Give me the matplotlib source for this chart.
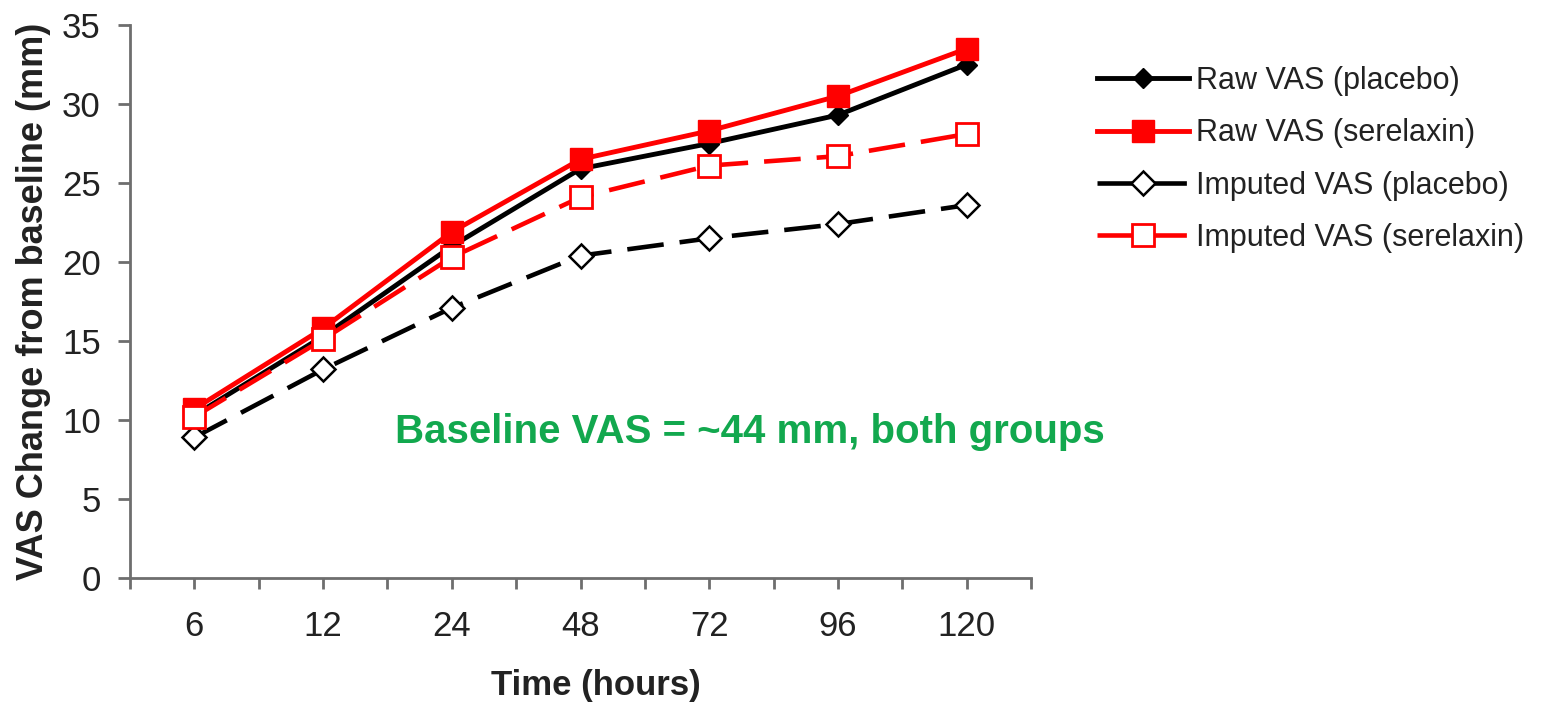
import matplotlib
matplotlib.use("Agg")
import matplotlib.pyplot as plt
import numpy as np

plt.rcParams['font.family'] = ['Liberation Sans', 'DejaVu Sans']

# data
hours = ['6', '12', '24', '48', '72', '96', '120']
raw_placebo = [10.3, 15.3, 21.0, 25.9, 27.5, 29.3, 32.5]
raw_serelaxin = [10.7, 15.8, 21.9, 26.5, 28.3, 30.5, 33.5]
imp_placebo = [8.9, 13.2, 17.1, 20.4, 21.5, 22.4, 23.6]
imp_serelaxin = [10.2, 15.1, 20.3, 24.1, 26.1, 26.7, 28.1]
note = 'Baseline VAS = ~44 mm, both groups'

RED = '#ff0000'
GREEN = '#12a84e'
AXC = '#6e6e6e'
TXT = '#222222'

fig = plt.figure(figsize=(15.5, 7.03), dpi=100)
ax = fig.add_axes([130/1550, 1-578/703, (1031-130)/1550, (578-25)/703])

x = np.arange(len(hours))
dash = (8, 3.5)

h3, = ax.plot(x, imp_placebo, color='black', lw=3.3, dashes=dash, marker='D',
              ms=12.5, mfc='white', mec='black', mew=1.8, zorder=2,
              label='Imputed VAS (placebo)')
h1, = ax.plot(x, raw_placebo, color='black', lw=3.5, marker='D', ms=10,
              mfc='black', mec='black', zorder=3, label='Raw VAS (placebo)')
h2, = ax.plot(x, raw_serelaxin, color=RED, lw=3.5, marker='s', ms=16.5,
              mfc=RED, mec=RED, zorder=4, label='Raw VAS (serelaxin)')
h4, = ax.plot(x, imp_serelaxin, color=RED, lw=3.3, dashes=dash, marker='s',
              ms=15.5, mfc='white', mec=RED, mew=2, zorder=5,
              label='Imputed VAS (serelaxin)')

ax.set_xlim(-0.5, len(hours) - 0.5)
ax.set_ylim(0, 35)
ax.set_yticks(np.arange(0, 36, 5))
ax.set_xticks(x)
ax.set_xticklabels(hours)
ax.set_xticks(np.arange(-0.5, len(hours), 1.0), minor=True)

for s in ['top', 'right']:
    ax.spines[s].set_visible(False)
for s in ['left', 'bottom']:
    ax.spines[s].set_color(AXC)
    ax.spines[s].set_linewidth(2)

ax.tick_params(axis='y', length=9, width=2, color=AXC, labelsize=25,
               labelcolor=TXT, pad=12)
ax.tick_params(axis='x', which='both', length=8, width=2, color=AXC,
               labelsize=25, labelcolor=TXT, pad=15)

ax.set_ylabel('VAS Change from baseline (mm)', fontsize=26, fontweight='bold',
              color=TXT, va='center')
ax.yaxis.set_label_coords(-0.107, 0.5)
ax.set_xlabel('Time (hours)', fontsize=25, fontweight='bold', color=TXT,
              va='center')
ax.xaxis.set_label_coords(0.517, -0.194)

ax.text(750/1550, 1-432/703, note, transform=fig.transFigure, ha='center',
        va='center', fontsize=29, fontweight='bold', color=GREEN)

fig.legend(handles=[h1, h2, h3, h4], loc='upper left',
           bbox_to_anchor=(1097/1550, 1-66/703), frameon=False,
           fontsize=22, handlelength=3.0, handletextpad=0.25,
           labelspacing=0.73, borderpad=0, borderaxespad=0,
           labelcolor=TXT)

fig.savefig('out.png', dpi=100)
